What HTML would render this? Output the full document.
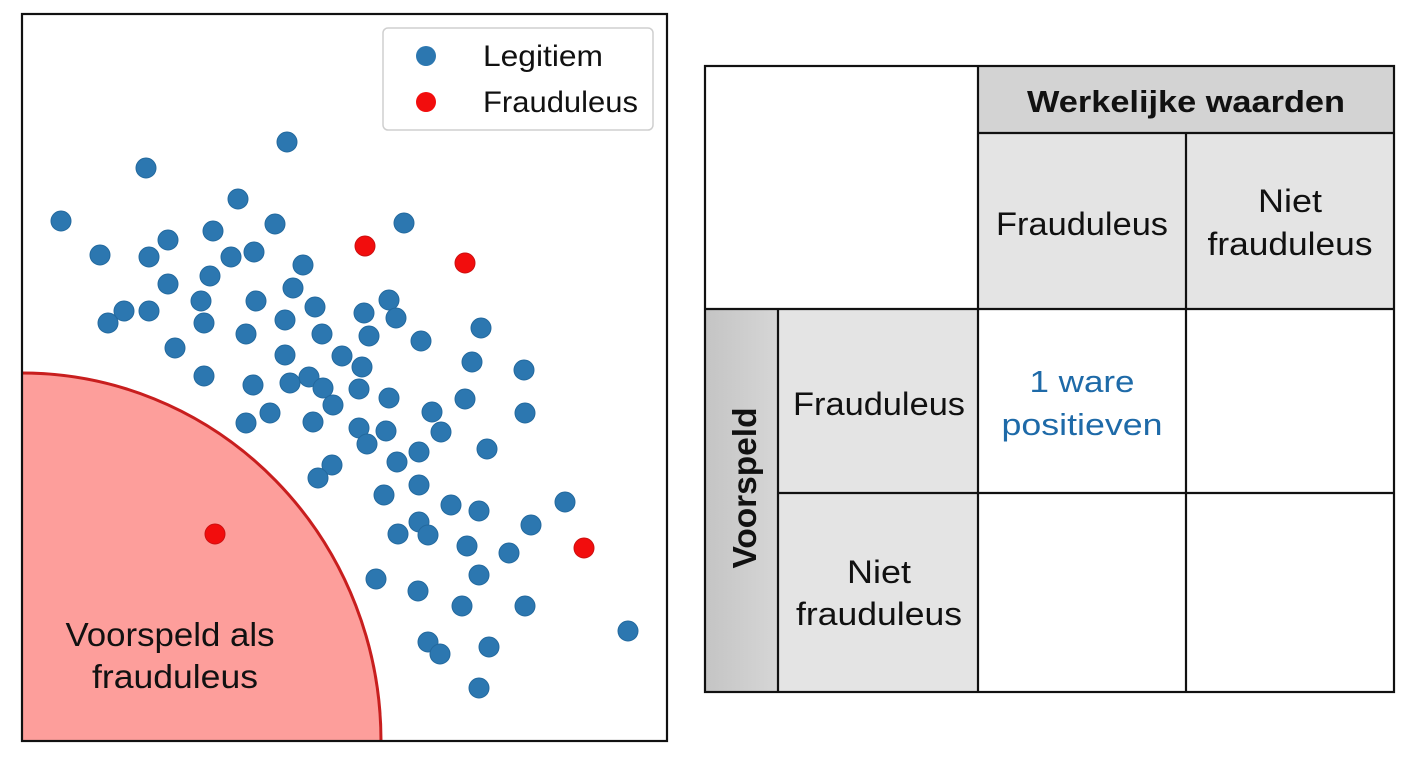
<!DOCTYPE html>
<html>
<head>
<meta charset="utf-8">
<style>
html,body{margin:0;padding:0;background:#fff;}
body{width:1408px;height:768px;overflow:hidden;}
svg{display:block;}
text{font-family:"Liberation Sans",Arial,sans-serif;fill:#111;}
</style>
</head>
<body>
<svg width="1408" height="768" viewBox="0 0 1408 768" xmlns="http://www.w3.org/2000/svg">
  <rect width="1408" height="768" fill="#fff"/>

  <!-- Left scatter plot -->
  <path d="M22,373 A359,368 0 0 1 381,741 L22,741 Z" fill="#fd9e9b"/>
  <path d="M22,373 A359,368 0 0 1 381,741" fill="none" stroke="#c81e1e" stroke-width="3"/>

  <g fill="#2c77b0" stroke="#23699e" stroke-width="1">
    <circle cx="287" cy="142" r="10"/><circle cx="146" cy="168" r="10"/><circle cx="238" cy="199" r="10"/>
    <circle cx="61" cy="221" r="10"/><circle cx="275" cy="224" r="10"/><circle cx="213" cy="231" r="10"/>
    <circle cx="168" cy="240" r="10"/><circle cx="100" cy="255" r="10"/><circle cx="149" cy="257" r="10"/>
    <circle cx="231" cy="257" r="10"/><circle cx="254" cy="252" r="10"/><circle cx="303" cy="265" r="10"/>
    <circle cx="210" cy="276" r="10"/><circle cx="168" cy="284" r="10"/><circle cx="293" cy="288" r="10"/>
    <circle cx="201" cy="301" r="10"/><circle cx="256" cy="301" r="10"/><circle cx="315" cy="307" r="10"/>
    <circle cx="124" cy="311" r="10"/><circle cx="149" cy="311" r="10"/><circle cx="108" cy="323" r="10"/>
    <circle cx="204" cy="323" r="10"/><circle cx="285" cy="320" r="10"/><circle cx="246" cy="334" r="10"/>
    <circle cx="322" cy="334" r="10"/><circle cx="175" cy="348" r="10"/><circle cx="285" cy="355" r="10"/>
    <circle cx="342" cy="356" r="10"/><circle cx="204" cy="376" r="10"/><circle cx="253" cy="385" r="10"/>
    <circle cx="290" cy="383" r="10"/><circle cx="309" cy="377" r="10"/><circle cx="323" cy="388" r="10"/>
    <circle cx="333" cy="405" r="10"/><circle cx="246" cy="423" r="10"/><circle cx="270" cy="413" r="10"/>
    <circle cx="313" cy="422" r="10"/><circle cx="404" cy="223" r="10"/><circle cx="364" cy="313" r="10"/>
    <circle cx="389" cy="300" r="10"/><circle cx="396" cy="318" r="10"/><circle cx="369" cy="336" r="10"/>
    <circle cx="421" cy="341" r="10"/><circle cx="481" cy="328" r="10"/><circle cx="362" cy="367" r="10"/>
    <circle cx="472" cy="362" r="10"/><circle cx="524" cy="370" r="10"/><circle cx="359" cy="389" r="10"/>
    <circle cx="389" cy="398" r="10"/><circle cx="465" cy="399" r="10"/><circle cx="432" cy="412" r="10"/>
    <circle cx="525" cy="413" r="10"/><circle cx="359" cy="428" r="10"/><circle cx="367" cy="444" r="10"/>
    <circle cx="386" cy="431" r="10"/><circle cx="441" cy="432" r="10"/><circle cx="419" cy="452" r="10"/>
    <circle cx="487" cy="449" r="10"/><circle cx="332" cy="465" r="10"/><circle cx="318" cy="478" r="10"/>
    <circle cx="397" cy="462" r="10"/><circle cx="419" cy="485" r="10"/><circle cx="384" cy="495" r="10"/>
    <circle cx="451" cy="505" r="10"/><circle cx="479" cy="511" r="10"/><circle cx="565" cy="502" r="10"/>
    <circle cx="531" cy="525" r="10"/><circle cx="419" cy="522" r="10"/><circle cx="428" cy="535" r="10"/>
    <circle cx="398" cy="534" r="10"/><circle cx="467" cy="546" r="10"/><circle cx="509" cy="553" r="10"/>
    <circle cx="479" cy="575" r="10"/><circle cx="376" cy="579" r="10"/><circle cx="418" cy="591" r="10"/>
    <circle cx="462" cy="606" r="10"/><circle cx="525" cy="606" r="10"/><circle cx="628" cy="631" r="10"/>
    <circle cx="428" cy="642" r="10"/><circle cx="440" cy="654" r="10"/><circle cx="489" cy="647" r="10"/>
    <circle cx="479" cy="688" r="10"/>
  </g>
  <g fill="#f20d0d" stroke="#cc1010" stroke-width="1">
    <circle cx="365" cy="246" r="10"/><circle cx="465" cy="263" r="10"/>
    <circle cx="584" cy="548" r="10"/><circle cx="215" cy="534" r="10"/>
  </g>

  <text x="170" y="646" font-size="33" text-anchor="middle" textLength="209" lengthAdjust="spacingAndGlyphs">Voorspeld als</text>
  <text x="175" y="688" font-size="33" text-anchor="middle" textLength="166" lengthAdjust="spacingAndGlyphs">frauduleus</text>

  <!-- Legend -->
  <rect x="383" y="28" width="270" height="102" rx="5" fill="#fff" stroke="#cfcfcf" stroke-width="1.5"/>
  <circle cx="426" cy="56" r="10" fill="#2c77b0"/>
  <circle cx="426" cy="102" r="10" fill="#f20d0d"/>
  <text x="483" y="66" font-size="30" textLength="120" lengthAdjust="spacingAndGlyphs">Legitiem</text>
  <text x="483" y="112" font-size="30" textLength="155" lengthAdjust="spacingAndGlyphs">Frauduleus</text>

  <!-- Plot frame -->
  <rect x="22" y="14" width="645" height="727" fill="none" stroke="#111" stroke-width="2.2"/>

  <!-- Confusion matrix table -->
  <rect x="705" y="66" width="689" height="626" fill="#fff"/>
  <rect x="978" y="66" width="416" height="67" fill="#d3d3d3"/>
  <rect x="978" y="133" width="416" height="176" fill="#e4e4e4"/>
  <defs>
    <linearGradient id="vg" x1="0" y1="0" x2="1" y2="0">
      <stop offset="0" stop-color="#c4c4c4"/>
      <stop offset="1" stop-color="#d6d6d6"/>
    </linearGradient>
  </defs>
  <rect x="705" y="309" width="73" height="383" fill="url(#vg)"/>
  <rect x="778" y="309" width="200" height="383" fill="#e4e4e4"/>

  <g stroke="#111" stroke-width="2.2" fill="none">
    <rect x="705" y="66" width="689" height="626"/>
    <line x1="978" y1="66" x2="978" y2="692"/>
    <line x1="1186" y1="133" x2="1186" y2="692"/>
    <line x1="778" y1="309" x2="778" y2="692"/>
    <line x1="978" y1="133" x2="1394" y2="133"/>
    <line x1="705" y1="309" x2="1394" y2="309"/>
    <line x1="778" y1="493" x2="1394" y2="493"/>
  </g>

  <text x="1186" y="112" font-size="31" font-weight="bold" text-anchor="middle" textLength="318" lengthAdjust="spacingAndGlyphs">Werkelijke waarden</text>
  <text x="1082" y="235" font-size="32" text-anchor="middle" textLength="172" lengthAdjust="spacingAndGlyphs">Frauduleus</text>
  <text x="1290" y="212" font-size="32" text-anchor="middle" textLength="64" lengthAdjust="spacingAndGlyphs">Niet</text>
  <text x="1290" y="255" font-size="32" text-anchor="middle" textLength="165" lengthAdjust="spacingAndGlyphs">frauduleus</text>

  <text x="879" y="415" font-size="32" text-anchor="middle" textLength="172" lengthAdjust="spacingAndGlyphs">Frauduleus</text>
  <text x="879" y="583" font-size="32" text-anchor="middle" textLength="64" lengthAdjust="spacingAndGlyphs">Niet</text>
  <text x="879" y="625" font-size="32" text-anchor="middle" textLength="166" lengthAdjust="spacingAndGlyphs">frauduleus</text>

  <text x="1082" y="392" font-size="31" text-anchor="middle" textLength="105" lengthAdjust="spacingAndGlyphs" style="fill:#1e6aa8">1 ware</text>
  <text x="1082" y="435" font-size="31" text-anchor="middle" textLength="161" lengthAdjust="spacingAndGlyphs" style="fill:#1e6aa8">positieven</text>

  <text transform="translate(756,488) rotate(-90)" font-size="33" font-weight="bold" text-anchor="middle" textLength="161" lengthAdjust="spacingAndGlyphs">Voorspeld</text>
</svg>
</body>
</html>
